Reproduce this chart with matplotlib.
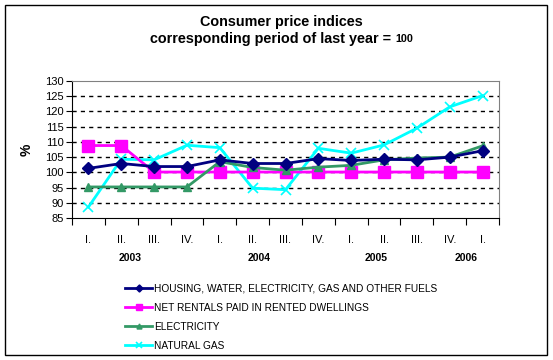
import matplotlib
matplotlib.use("Agg")
import matplotlib.pyplot as plt
import numpy as np

plt.rcParams['font.family'] = ['Liberation Sans', 'DejaVu Sans']

quarters = ["I.", "II.", "III.", "IV.", "I.", "II.", "III.", "IV.",
            "I.", "II.", "III.", "IV.", "I."]
years = ["2003", "2004", "2005", "2006"]
year_pos = [1.78, 5.71, 9.25, 12.0]

housing = [101.3, 102.9, 101.9, 101.9, 104.1, 102.9, 102.9,
           104.5, 103.9, 104.3, 104.1, 105.0, 107.1]
rentals = [108.8, 108.8, 100.1, 100.1, 100.1, 100.1, 100.1,
           100.1, 100.1, 100.1, 100.1, 100.1, 100.1]
electricity = [95.2, 95.2, 95.2, 95.2, 103.5, 101.6, 100.7,
               101.7, 102.3, 104.1, 104.7, 105.0, 108.7]
natural_gas = [88.6, 104.3, 104.1, 108.9, 108.1, 94.8, 94.3,
               107.9, 106.3, 109.0, 114.5, 121.5, 125.2]

labels = ["HOUSING, WATER, ELECTRICITY, GAS AND OTHER FUELS",
          "NET RENTALS PAID IN RENTED DWELLINGS",
          "ELECTRICITY",
          "NATURAL GAS"]

W, H = 553, 360
fig = plt.figure(figsize=(W / 100, H / 100), dpi=100)
ax = fig.add_axes([72 / W, 1 - 218 / H, (499 - 72) / W, (218 - 81) / H])

x = np.arange(len(quarters)) + 0.5

for v in range(90, 130, 5):
    ax.axhline(v, color='black', lw=1, ls=(0, (3, 3)), zorder=1)

ax.plot(x, housing, color='#000080', lw=2, marker='D', ms=6, label=labels[0], zorder=5)
ax.plot(x, rentals, color='#FF00FF', lw=2, marker='s', ms=8, label=labels[1], zorder=3)
ax.plot(x, electricity, color='#339966', lw=2, marker='^', ms=6, label=labels[2], zorder=4)
ax.plot(x, natural_gas, color='#00FFFF', lw=2, marker='x', ms=7, mew=1.2, label=labels[3], zorder=2)

ax.set_xlim(0, len(quarters))
ax.set_ylim(85, 130)
ax.set_yticks(range(85, 131, 5))
ax.tick_params(axis='y', direction='out', length=4, labelsize=8, pad=2)
ax.set_xticks(range(len(quarters) + 1))
ax.set_xticklabels([])
ax.set_xticks(x, minor=True)
ax.set_xticklabels(quarters, minor=True, fontsize=8)
ax.tick_params(axis='x', which='major', direction='out', length=5)
ax.tick_params(axis='x', which='minor', length=0, pad=12)

for s in ['top', 'right']:
    ax.spines[s].set_color('#808080')
for s in ['left', 'bottom']:
    ax.spines[s].set_color('black')

for yr, p in zip(years, year_pos):
    ax.text(p, -0.29, yr, transform=ax.get_xaxis_transform(), ha='center', va='center',
            fontsize=7.5, fontweight='bold')

ax.set_ylabel('%', fontsize=10, fontweight='bold', labelpad=8)

fig.text(281 / W, 1 - 22 / H, "Consumer price indices", ha='center', va='center',
         fontsize=10.4, fontweight='bold')
fig.text(391 / W, 1 - 39 / H, "corresponding period of last year =", ha='right', va='center',
         fontsize=10.4, fontweight='bold')
fig.text(395 / W, 1 - 39.5 / H, "100", ha='left', va='center',
         fontsize=7.8, fontweight='bold')

fig.legend(loc='upper left', bbox_to_anchor=(125 / W, 1 - 283.5 / H), frameon=False,
           fontsize=7.3, handlelength=2.7, handletextpad=0.2, labelspacing=0.9,
           borderpad=0, borderaxespad=0, markerscale=0.6)

fig.patches.append(plt.Rectangle((5 / W, 5 / H), 542 / W, 350 / H, transform=fig.transFigure,
                                 fill=False, edgecolor='black', lw=1))

fig.savefig('out.png', dpi=100)
